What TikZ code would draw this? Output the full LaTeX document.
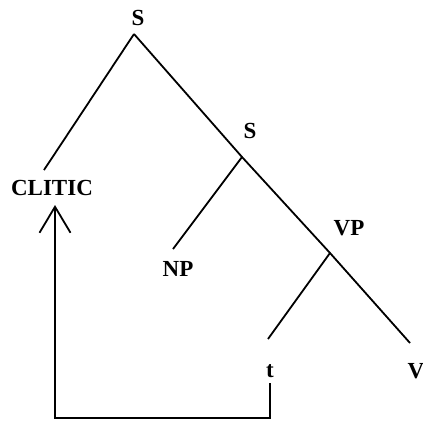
\documentclass[tikz,border=0pt]{standalone}
\usepackage{fontspec}
\setmainfont{Liberation Serif}
\usetikzlibrary{arrows.meta}

\begin{document}
\begin{tikzpicture}[x=1pt, y=-1pt,
  cat/.style={font=\fontsize{23}{23}\selectfont\bfseries, inner sep=0pt},
  branch/.style={line width=1.8pt},
  move/.style={line width=1.8pt, -{Straight Barb[length=26pt, width=31pt, line width=1.8pt]}},
]
  \useasboundingbox (0,0) rectangle (423,421);
  % labels
  \node[cat] (sTop)   at (138,18)  {S};
  \node[cat] (sLow)   at (250,131) {S};
  \node[cat] (vp)     at (349,228) {VP};
  \node[cat] (np)     at (178,269) {NP};
  \node[cat] (trace)  at (270,371) {t};
  \node[cat] (verb)   at (416,371) {V};
  \node[cat] (clitic) at (52,188)  {CLITIC};
  % branching points and line ends
  \coordinate (sTopJ) at (134,34);
  \coordinate (sLowJ) at (242,157);
  \coordinate (vpJ)   at (330,253);
  \coordinate (cliticE) at (44,170);
  \coordinate (npE)   at (173,249);
  \coordinate (traceE) at (268,339);
  \coordinate (verbE) at (410,343);
  \coordinate (traceB) at (270,383);
  \coordinate (arrowT) at (55,205);
  % tree
  \draw[branch] (sTopJ) -- (cliticE);
  \draw[branch] (sTopJ) -- (sLowJ) -- (vpJ) -- (verbE);
  \draw[branch] (sLowJ) -- (npE);
  \draw[branch] (vpJ) -- (traceE);
  % movement
  \draw[move] (traceB) -- (270,418) -| (arrowT);
\end{tikzpicture}
\end{document}
